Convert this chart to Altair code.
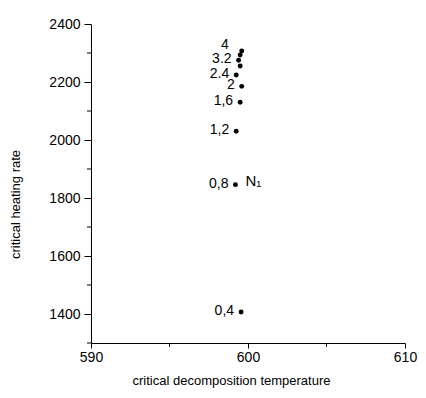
import altair as alt
import pandas as pd

# heating rates (point labels), critical decomposition temperature, critical heating rate
rate_labels = ["0,4", "0,8", "1,2", "1,6", "2", "2.4", "", "3.2", "", "4"]
temps = [599.56, 599.2, 599.25, 599.5, 599.6, 599.25, 599.5, 599.4, 599.5, 599.6]
heat_rates = [1407, 1846, 2030, 2130, 2185, 2224, 2255, 2275, 2293, 2307]

series_name = "N₁"
y_ticks = [1400, 1600, 1800, 2000, 2200, 2400]
y_minor = [1300, 1500, 1700, 1900, 2100, 2300]
x_ticks = [590, 600, 610]
x_minor = [595, 605]

df = pd.DataFrame({"label": rate_labels, "T": temps, "H": heat_rates})
df_minor_y = pd.DataFrame({"H": y_minor})
df_minor_x = pd.DataFrame({"T": x_minor})
df_name = pd.DataFrame({"T": [temps[1]], "H": [heat_rates[1]], "name": [series_name]})

FONT = "Liberation Sans"

xs = alt.Scale(domain=[590, 610], nice=False, zero=False)
ys = alt.Scale(domain=[1300, 2400], nice=False, zero=False)

x_axis = alt.Axis(values=x_ticks, title="critical decomposition temperature",
                  format="d", grid=False, tickSize=5, labelPadding=2, labelFontSize=14,
                  labelFont=FONT, titleFont=FONT, titleFontSize=13,
                  titleFontWeight="normal", titleColor="black", labelColor="black",
                  domainColor="black", tickColor="black", titleX=140, titleY=31,
                  labelFlush=False)
y_axis = alt.Axis(values=y_ticks, title="critical heating rate", grid=False,
                  format="d", tickSize=7, labelPadding=4, labelFontSize=14, labelFont=FONT,
                  titleFont=FONT, titleFontSize=13, titleFontWeight="normal",
                  titleColor="black", labelColor="black", domainColor="black",
                  tickColor="black", titleX=-69, titleY=180, labelFlush=False)

points = alt.Chart(df).mark_circle(color="black", opacity=1, size=24).encode(
    x=alt.X("T:Q", scale=xs, axis=x_axis),
    y=alt.Y("H:Q", scale=ys, axis=y_axis),
)

labels = alt.Chart(df).transform_filter(
    "datum.label != '4' && datum.label != ''"
).mark_text(align="right", baseline="middle", dx=-7, dy=-1, fontSize=14,
            font=FONT, color="black").encode(
    x=alt.X("T:Q", scale=xs), y=alt.Y("H:Q", scale=ys), text="label:N"
)

label4 = alt.Chart(df).transform_filter("datum.label == '4'").mark_text(
    align="right", baseline="middle", dx=-13, dy=-6, fontSize=14, font=FONT,
    color="black").encode(
    x=alt.X("T:Q", scale=xs), y=alt.Y("H:Q", scale=ys), text="label:N"
)

name = alt.Chart(df_name).mark_text(
    align="left", baseline="middle", dx=10, dy=-4, fontSize=15, font=FONT,
    color="black").encode(
    x=alt.X("T:Q", scale=xs), y=alt.Y("H:Q", scale=ys), text="name:N"
)

minor_y = alt.Chart(df_minor_y).mark_rule(color="black").encode(
    y=alt.Y("H:Q", scale=ys), x=alt.value(-4), x2=alt.value(0)
)
minor_x = alt.Chart(df_minor_x).mark_rule(color="black").encode(
    x=alt.X("T:Q", scale=xs), y=alt.value(319), y2=alt.value(323)
)

chart = alt.layer(points, labels, label4, name, minor_y, minor_x).properties(
    width=314, height=319,
    autosize=alt.AutoSizeParams(type="none"),
    padding={"left": 83, "top": 16, "right": 13, "bottom": 47},
    background="white",
).configure_view(stroke=None)

chart.save("out.html", embed_options={"renderer": "svg", "actions": False})
